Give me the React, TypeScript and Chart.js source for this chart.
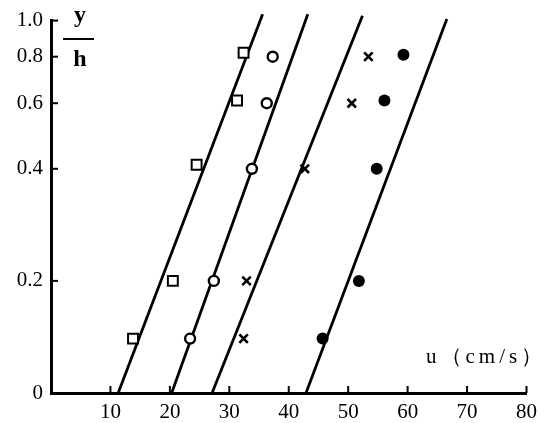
import React, { useEffect, useRef } from 'react';
import { Chart, registerables } from 'chart.js';

Chart.register(...registerables);

// y/h ticks (log axis, bottom labelled 0)
const yTicks = [0.1, 0.2, 0.4, 0.6, 0.8, 1.0];
const xTicks = [10, 20, 30, 40, 50, 60, 70, 80];

// measured points, u (cm/s) vs y/h
const squareU = [13.8, 20.5, 24.5, 31.3, 32.4];
const squareV = [0.14, 0.2, 0.41, 0.61, 0.82];
const circleU = [23.4, 27.4, 33.8, 36.3, 37.3];
const circleV = [0.14, 0.2, 0.4, 0.6, 0.8];
const crossU = [32.4, 32.9, 42.7, 50.6, 53.4];
const crossV = [0.14, 0.2, 0.4, 0.6, 0.8];
const dotU = [45.7, 51.8, 54.8, 56.1, 59.3];
const dotV = [0.14, 0.2, 0.4, 0.61, 0.81];

// fitted straight lines: start at y/h = 0.1, end near the top
const lineStartU = [11.3, 20.3, 27.1, 42.9];
const lineEndU = [35.6, 43.2, 52.4, 66.6];
const lineEndV = [1.04, 1.04, 1.03, 1.01];

const SERIF = '"Liberation Serif", "DejaVu Serif", serif';

const pts = (u: number[], v: number[]) => u.map((x, i) => ({ x, y: v[i] }));

const decorations = {
  id: 'decorations',
  afterDraw(chart: any) {
    const { ctx, chartArea, scales } = chart;
    const xs = scales.x;
    const ys = scales.y;
    ctx.save();
    ctx.strokeStyle = '#000';
    ctx.lineWidth = 2;
    // inner tick marks
    yTicks.slice(1).forEach(v => {
      const py = ys.getPixelForValue(v);
      ctx.beginPath();
      ctx.moveTo(chartArea.left, py);
      ctx.lineTo(chartArea.left + 7, py);
      ctx.stroke();
    });
    xTicks.forEach(v => {
      const px = xs.getPixelForValue(v);
      ctx.beginPath();
      ctx.moveTo(px, chartArea.bottom);
      ctx.lineTo(px, chartArea.bottom - 7);
      ctx.stroke();
    });
    // axis titles
    ctx.fillStyle = '#000';
    ctx.textAlign = 'center';
    ctx.textBaseline = 'middle';
    ctx.font = `bold 24px ${SERIF}`;
    ctx.fillText('y', 80, 16);
    ctx.fillText('h', 80, 60);
    ctx.lineWidth = 2;
    ctx.beginPath();
    ctx.moveTo(63, 39);
    ctx.lineTo(94, 39);
    ctx.stroke();
    ctx.font = `21px ${SERIF}`;
    ctx.textAlign = 'left';
    (ctx as any).letterSpacing = '4px';
    ctx.fillText('u（cm/s）', 426, 357);
    ctx.restore();
  },
};

export default function App() {
  const canvasRef = useRef<HTMLCanvasElement>(null);
  const chartRef = useRef<Chart | null>(null);

  useEffect(() => {
    if (!canvasRef.current) return;
    if (chartRef.current) chartRef.current.destroy();

    const lineSets = lineStartU.map((u0, i) => ({
      type: 'line' as const,
      data: [
        { x: u0, y: 0.1 },
        { x: lineEndU[i], y: lineEndV[i] },
      ],
      borderColor: '#000',
      borderWidth: 2.8,
      pointRadius: 0,
      clip: false as const,
      order: 2,
    }));

    chartRef.current = new Chart(canvasRef.current, {
      type: 'scatter',
      data: {
        datasets: [
          {
            data: pts(squareU, squareV),
            pointStyle: 'rect',
            pointRadius: 7,
            pointBackgroundColor: '#fff',
            pointBorderColor: '#000',
            pointBorderWidth: 2,
            order: 1,
          },
          {
            data: pts(circleU, circleV),
            pointStyle: 'circle',
            pointRadius: 5,
            pointBackgroundColor: '#fff',
            pointBorderColor: '#000',
            pointBorderWidth: 2.4,
            order: 1,
          },
          {
            data: pts(crossU, crossV),
            pointStyle: 'crossRot',
            pointRadius: 6,
            pointBorderColor: '#000',
            pointBorderWidth: 2.6,
            order: 1,
          },
          {
            data: pts(dotU, dotV),
            pointStyle: 'circle',
            pointRadius: 6,
            pointBackgroundColor: '#000',
            pointBorderColor: '#000',
            pointBorderWidth: 0,
            order: 1,
          },
          ...lineSets,
        ] as any,
      },
      options: {
        responsive: false,
        animation: false,
        layout: { padding: { top: 16, right: 17, left: 0, bottom: 0 } },
        plugins: {
          legend: { display: false },
          tooltip: { enabled: false },
        },
        scales: {
          x: {
            type: 'linear',
            min: 0,
            max: 80,
            afterBuildTicks: (s: any) => {
              s.ticks = [0, ...xTicks].map(v => ({ value: v }));
            },
            afterFit: (s: any) => {
              s.height = 30;
            },
            ticks: {
              color: '#000',
              padding: 7,
              maxRotation: 0,
              font: { family: SERIF, size: 21 },
              callback: (v: any) => (v === 0 ? '' : String(v)),
            },
            grid: { display: false, drawTicks: false },
            border: { display: true, color: '#000', width: 3 },
          },
          y: {
            type: 'logarithmic',
            min: 0.1,
            max: 1.0,
            afterBuildTicks: (s: any) => {
              s.ticks = yTicks.map(v => ({ value: v }));
            },
            afterFit: (s: any) => {
              s.width = 51;
            },
            ticks: {
              color: '#000',
              padding: 8,
              font: { family: SERIF, size: 21 },
              callback: (v: any) => {
                const n = Number(v);
                if (Math.abs(n - 0.1) < 1e-6) return '0';
                return n.toFixed(1);
              },
            },
            grid: { display: false, drawTicks: false },
            border: { display: true, color: '#000', width: 3 },
          },
        },
      },
      plugins: [decorations],
    });

    return () => {
      if (chartRef.current) {
        chartRef.current.destroy();
        chartRef.current = null;
      }
    };
  }, []);

  return (
    <div style={{ position: 'fixed', left: 0, top: 0, width: 544, height: 423, background: '#fff' }}>
      <canvas ref={canvasRef} width={544} height={423}></canvas>
    </div>
  );
}
